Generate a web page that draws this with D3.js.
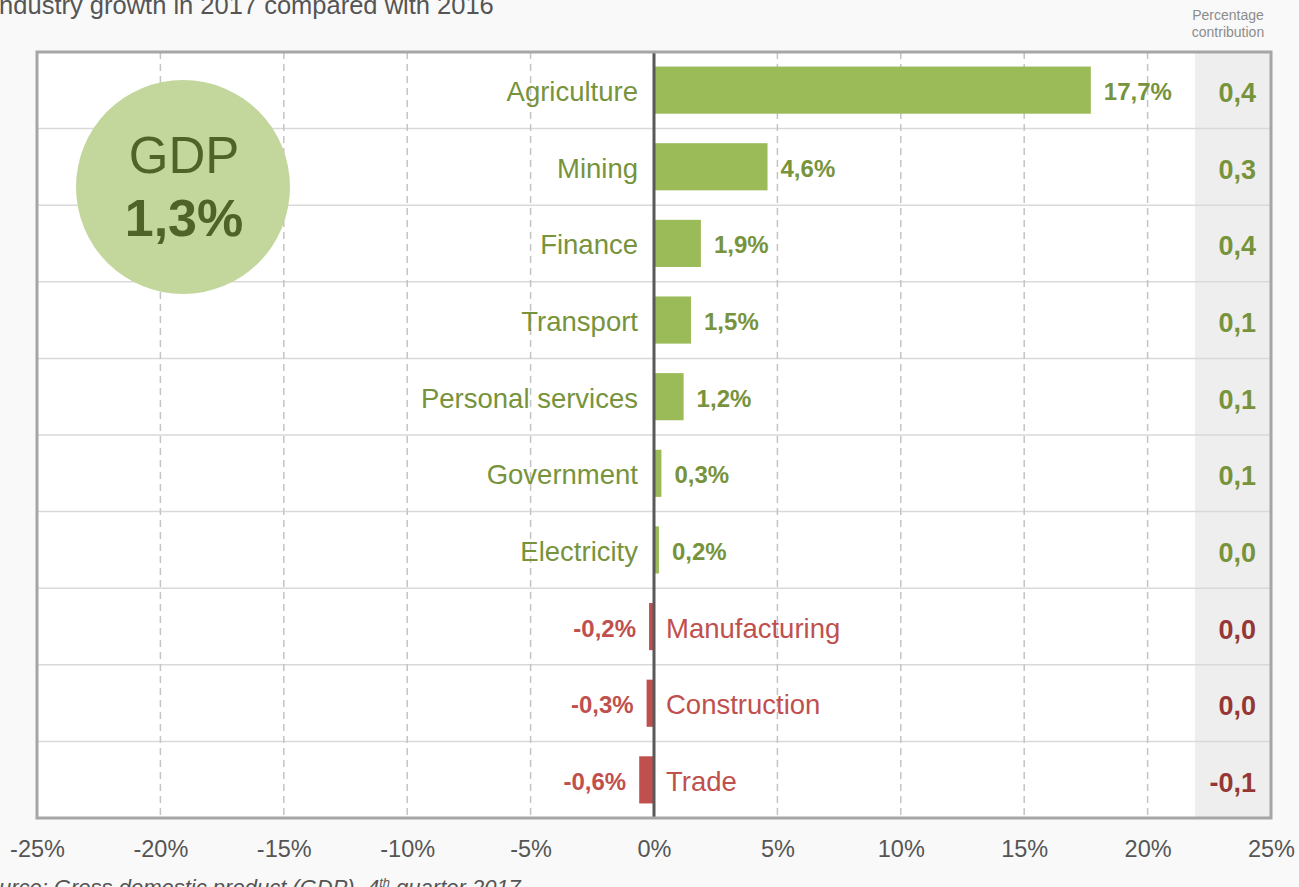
<!DOCTYPE html>
<html>
<head>
<meta charset="utf-8">
<script src="https://cdn.jsdelivr.net/npm/d3@7"></script>
<style>
  html, body { margin: 0; padding: 0; background: #f9f9f9; overflow: hidden; }
  svg { display: block; font-family: "Liberation Sans", Arial, sans-serif; }
</style>
</head>
<body>
<div id="chart"></div>
<script>
// data
var categories = ["Agriculture", "Mining", "Finance", "Transport", "Personal services",
                  "Government", "Electricity", "Manufacturing", "Construction", "Trade"];
var growth = [17.7, 4.6, 1.9, 1.5, 1.2, 0.3, 0.2, -0.2, -0.3, -0.6];
var contribution = [0.4, 0.3, 0.4, 0.1, 0.1, 0.1, 0.0, 0.0, 0.0, -0.1];
var xTicks = [-25, -20, -15, -10, -5, 0, 5, 10, 15, 20, 25];
var gdpGrowth = 1.3;

var svgWidth = 1299;
var svgHeight = 887;

var plot = { left: 37, right: 1271, top: 52, bottom: 818 };
var shadeLeft = 1195;

var green = "#9bbb59", greenText = "#77933c";
var red = "#c0504d", darkRed = "#953735";

var loc = d3.formatLocale({ decimal: ",", thousands: ".", grouping: [3], currency: ["", ""], minus: "-" });
var f1 = loc.format(".1f");

var rows = categories.map(function (c, i) {
  return { name: c, value: growth[i], contrib: contribution[i] };
});

var svg = d3.select("#chart").append("svg")
  .attr("width", svgWidth)
  .attr("height", svgHeight);

var x = d3.scaleLinear().domain([-25, 25]).range([plot.left, plot.right]);
var y = d3.scaleBand().domain(categories).range([plot.top, plot.bottom]).paddingInner(0.385).paddingOuter(0.19);
var rowH = (plot.bottom - plot.top) / categories.length;

// title (clipped at the left edge like the source)
svg.append("text")
  .attr("x", -8).attr("y", 14)
  .attr("font-size", 25.5).attr("fill", "#555")
  .text("Industry growth in 2017 compared with 2016");

svg.append("text")
  .attr("text-anchor", "middle").attr("font-size", 14).attr("fill", "#8c8c8c")
  .selectAll("tspan").data(["Percentage", "contribution"]).enter()
  .append("tspan").attr("x", 1228).attr("y", (d, i) => 20 + i * 17).text(d => d);

// plot background
svg.append("rect")
  .attr("x", plot.left).attr("y", plot.top)
  .attr("width", plot.right - plot.left).attr("height", plot.bottom - plot.top)
  .attr("fill", "#fff");

svg.append("rect")
  .attr("x", shadeLeft).attr("y", plot.top)
  .attr("width", plot.right - shadeLeft).attr("height", plot.bottom - plot.top)
  .attr("fill", "#eeeeee");

// row separators
svg.append("g").selectAll("line")
  .data(d3.range(1, categories.length)).enter()
  .append("line")
  .attr("x1", plot.left).attr("x2", plot.right)
  .attr("y1", d => plot.top + d * rowH).attr("y2", d => plot.top + d * rowH)
  .attr("stroke", "#d9d9d9").attr("stroke-width", 1.5);

// vertical dashed gridlines
svg.append("g").selectAll("line")
  .data(xTicks.filter(t => t != 0 && Math.abs(t) < 25)).enter()
  .append("line")
  .attr("x1", d => x(d)).attr("x2", d => x(d))
  .attr("y1", plot.top).attr("y2", plot.bottom)
  .attr("stroke", "#c4c4c4").attr("stroke-width", 1.5)
  .attr("stroke-dasharray", "7,5");

// GDP bubble
svg.append("circle")
  .attr("cx", 183).attr("cy", 187).attr("r", 107)
  .attr("fill", "#c3d69b");
svg.append("text")
  .attr("x", 184).attr("y", 173).attr("text-anchor", "middle")
  .attr("font-size", 51).attr("fill", "#4f6228")
  .text("GDP");
svg.append("text")
  .attr("x", 184).attr("y", 236).attr("text-anchor", "middle")
  .attr("font-size", 52).attr("font-weight", "bold").attr("fill", "#4f6228")
  .text(f1(gdpGrowth) + "%");

// bars
svg.append("g").selectAll("rect")
  .data(rows).enter()
  .append("rect")
  .attr("x", d => x(Math.min(0, d.value)))
  .attr("width", d => Math.abs(x(d.value) - x(0)))
  .attr("y", d => y(d.name))
  .attr("height", y.bandwidth())
  .attr("fill", d => d.value >= 0 ? green : red);

// category names
svg.append("g").selectAll("text")
  .data(rows).enter()
  .append("text")
  .attr("x", d => d.value >= 0 ? x(0) - 16 : x(0) + 12)
  .attr("y", d => y(d.name) + y.bandwidth() / 2 + 11)
  .attr("text-anchor", d => d.value >= 0 ? "end" : "start")
  .attr("font-size", 27.5)
  .attr("fill", d => d.value >= 0 ? greenText : red)
  .text(d => d.name);

// value labels
svg.append("g").selectAll("text")
  .data(rows).enter()
  .append("text")
  .attr("x", d => d.value >= 0 ? x(d.value) + 13 : x(d.value) - 13)
  .attr("y", d => y(d.name) + y.bandwidth() / 2 + 10)
  .attr("text-anchor", d => d.value >= 0 ? "start" : "end")
  .attr("font-size", 24).attr("font-weight", "bold")
  .attr("fill", d => d.value >= 0 ? greenText : red)
  .text(d => f1(d.value) + "%");

// contribution column
svg.append("g").selectAll("text")
  .data(rows).enter()
  .append("text")
  .attr("x", 1256)
  .attr("y", d => y(d.name) + y.bandwidth() / 2 + 12)
  .attr("text-anchor", "end")
  .attr("font-size", 27).attr("font-weight", "bold")
  .attr("fill", d => d.value >= 0 ? greenText : darkRed)
  .text(d => f1(d.contrib));

// zero line
svg.append("line")
  .attr("x1", x(0)).attr("x2", x(0))
  .attr("y1", plot.top).attr("y2", plot.bottom)
  .attr("stroke", "#595959").attr("stroke-width", 3);

// frame
svg.append("rect")
  .attr("x", plot.left).attr("y", plot.top)
  .attr("width", plot.right - plot.left).attr("height", plot.bottom - plot.top)
  .attr("fill", "none").attr("stroke", "#a6a6a6").attr("stroke-width", 3);

// x axis
var xAxis = d3.axisBottom(x).tickValues(xTicks).tickSize(0).tickPadding(0)
  .tickFormat(d => d + "%");
var gx = svg.append("g")
  .attr("transform", `translate(0, ${plot.bottom + 39})`)
  .call(xAxis);
gx.select(".domain").remove();
gx.selectAll("text")
  .attr("font-size", 23.5).attr("fill", "#555")
  .attr("font-family", "'Liberation Sans', Arial, sans-serif")
  .attr("dy", 0);

// source line, cut off at the bottom/left edge
svg.append("text")
  .attr("x", -28).attr("y", 895)
  .attr("font-size", 22).attr("font-style", "italic").attr("fill", "#555")
  .html("Source: Gross domestic product (GDP), 4<tspan font-size='13' dy='-8'>th</tspan><tspan dy='8'> quarter 2017</tspan>");
</script>
</body>
</html>
